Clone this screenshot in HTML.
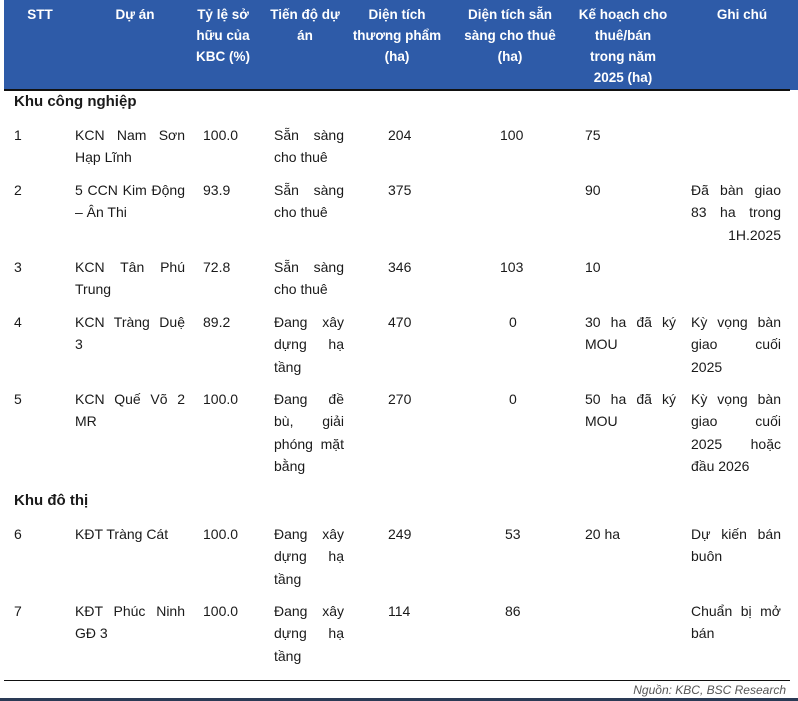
<!DOCTYPE html>
<html><head><meta charset="utf-8"><style>
body{margin:0;width:798px;height:701px;background:#fff;position:relative;overflow:hidden;font-family:"Liberation Sans","Noto Sans CJK SC",sans-serif;font-size:14px;color:#1a1a1a}
.hd{position:absolute;left:4px;top:0;width:794px;height:90px;background:#2e5ba8}
.h{position:absolute;color:#fff;font-weight:bold;font-size:13.5px;text-align:center;line-height:21px;top:4px}
.t{position:absolute;line-height:22px;white-space:nowrap}
.j{position:absolute;line-height:22.3px}
.j div{text-align:justify;text-align-last:justify;white-space:nowrap}
.j div.l{text-align-last:left}
.b{font-weight:bold;font-size:15px}
</style></head><body>
<div class="hd"></div>
<div style="position:absolute;left:4px;top:89px;width:786px;height:2px;background:#111"></div>
<div class="h" style="left:10px;width:60px">STT</div>
<div class="h" style="left:95px;width:80px">Dự án</div>
<div class="h" style="left:187px;width:72px">Tỷ lệ sở<br>hữu của<br>KBC (%)</div>
<div class="h" style="left:262px;width:86px">Tiến độ dự<br>án</div>
<div class="h" style="left:347px;width:100px">Diện tích<br>thương phẩm<br>(ha)</div>
<div class="h" style="left:455px;width:110px">Diện tích sẵn<br>sàng cho thuê<br>(ha)</div>
<div class="h" style="left:570px;width:106px">Kế hoạch cho<br>thuê/bán<br>trong năm<br>2025 (ha)</div>
<div class="h" style="left:702px;width:80px">Ghi chú</div>

<div class="t b" style="left:14px;top:91px">Khu công nghiệp</div>

<!-- row1 -->
<div class="t" style="left:14px;top:124px">1</div>
<div class="j" style="left:75px;top:124px;width:110px"><div>KCN Nam Sơn</div><div class="l">Hạp Lĩnh</div></div>
<div class="t" style="left:203px;top:124px">100.0</div>
<div class="j" style="left:274px;top:124px;width:70px"><div>Sẵn sàng</div><div class="l">cho thuê</div></div>
<div class="t" style="left:388px;top:124px">204</div>
<div class="t" style="left:500px;top:124px">100</div>
<div class="t" style="left:585px;top:124px">75</div>
<!-- row2 -->
<div class="t" style="left:14px;top:179px">2</div>
<div class="j" style="left:75px;top:179px;width:110px"><div>5 CCN Kim Động</div><div class="l">– Ân Thi</div></div>
<div class="t" style="left:203px;top:179px">93.9</div>
<div class="j" style="left:274px;top:179px;width:70px"><div>Sẵn sàng</div><div class="l">cho thuê</div></div>
<div class="t" style="left:388px;top:179px">375</div>
<div class="t" style="left:585px;top:179px">90</div>
<div class="j" style="left:691px;top:179px;width:90px"><div>Đã bàn giao</div><div>83 ha trong</div><div style="text-align:right;text-align-last:right">1H.2025</div></div>
<!-- row3 -->
<div class="t" style="left:14px;top:256px">3</div>
<div class="j" style="left:75px;top:256px;width:110px"><div>KCN Tân Phú</div><div class="l">Trung</div></div>
<div class="t" style="left:203px;top:256px">72.8</div>
<div class="j" style="left:274px;top:256px;width:70px"><div>Sẵn sàng</div><div class="l">cho thuê</div></div>
<div class="t" style="left:388px;top:256px">346</div>
<div class="t" style="left:500px;top:256px">103</div>
<div class="t" style="left:585px;top:256px">10</div>
<!-- row4 -->
<div class="t" style="left:14px;top:311px">4</div>
<div class="j" style="left:75px;top:311px;width:110px"><div>KCN Tràng Duệ</div><div class="l">3</div></div>
<div class="t" style="left:203px;top:311px">89.2</div>
<div class="j" style="left:274px;top:311px;width:70px"><div>Đang xây</div><div>dựng hạ</div><div class="l">tầng</div></div>
<div class="t" style="left:388px;top:311px">470</div>
<div class="t" style="left:509px;top:311px">0</div>
<div class="j" style="left:585px;top:311px;width:91px"><div>30 ha đã ký</div><div class="l">MOU</div></div>
<div class="j" style="left:691px;top:311px;width:90px"><div>Kỳ vọng bàn</div><div>giao cuối</div><div class="l">2025</div></div>
<!-- row5 -->
<div class="t" style="left:14px;top:388px">5</div>
<div class="j" style="left:75px;top:388px;width:110px"><div>KCN Quế Võ 2</div><div class="l">MR</div></div>
<div class="t" style="left:203px;top:388px">100.0</div>
<div class="j" style="left:274px;top:388px;width:70px"><div>Đang đề</div><div>bù, giải</div><div>phóng mặt</div><div class="l">bằng</div></div>
<div class="t" style="left:388px;top:388px">270</div>
<div class="t" style="left:509px;top:388px">0</div>
<div class="j" style="left:585px;top:388px;width:91px"><div>50 ha đã ký</div><div class="l">MOU</div></div>
<div class="j" style="left:691px;top:388px;width:90px"><div>Kỳ vọng bàn</div><div>giao cuối</div><div>2025 hoặc</div><div class="l">đầu 2026</div></div>

<div class="t b" style="left:14px;top:490px">Khu đô thị</div>
<!-- row6 -->
<div class="t" style="left:14px;top:523px">6</div>
<div class="t" style="left:75px;top:523px">KĐT Tràng Cát</div>
<div class="t" style="left:203px;top:523px">100.0</div>
<div class="j" style="left:274px;top:523px;width:70px"><div>Đang xây</div><div>dựng hạ</div><div class="l">tầng</div></div>
<div class="t" style="left:388px;top:523px">249</div>
<div class="t" style="left:505px;top:523px">53</div>
<div class="t" style="left:585px;top:523px">20 ha</div>
<div class="j" style="left:691px;top:523px;width:90px"><div>Dự kiến bán</div><div class="l">buôn</div></div>
<!-- row7 -->
<div class="t" style="left:14px;top:600px">7</div>
<div class="j" style="left:75px;top:600px;width:110px"><div>KĐT Phúc Ninh</div><div class="l">GĐ 3</div></div>
<div class="t" style="left:203px;top:600px">100.0</div>
<div class="j" style="left:274px;top:600px;width:70px"><div>Đang xây</div><div>dựng hạ</div><div class="l">tầng</div></div>
<div class="t" style="left:388px;top:600px">114</div>
<div class="t" style="left:505px;top:600px">86</div>
<div class="j" style="left:691px;top:600px;width:90px"><div>Chuẩn bị mở</div><div class="l">bán</div></div>

<div style="position:absolute;left:4px;top:680px;width:786px;height:1px;background:#111"></div>
<div class="t" style="right:12px;top:679px;font-style:italic;font-size:12px;color:#555">Nguồn: KBC, BSC Research</div>
<div style="position:absolute;left:0;top:698px;width:798px;height:3px;background:#2a3a55"></div>
</body></html>
